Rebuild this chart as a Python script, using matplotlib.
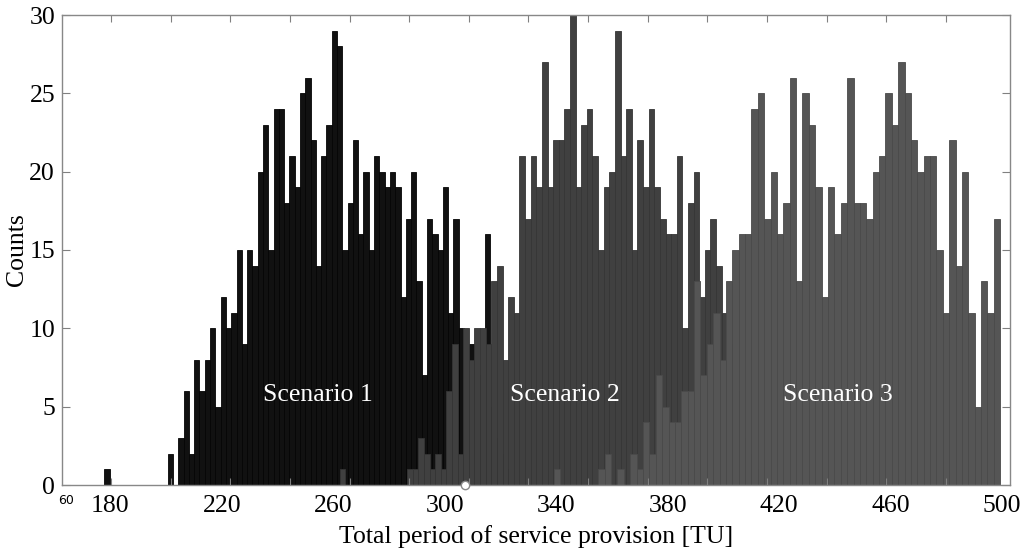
import numpy as np
import matplotlib.pyplot as plt

plt.rcParams['font.family'] = ['Liberation Serif', 'DejaVu Serif']

# histogram counts per bin, left edge of first bin and bin width in TU
s1_counts = [1, 0, 0, 0, 0, 0, 0, 0, 0, 0, 0, 0, 2, 0, 3, 6, 2, 8, 6, 8,
             10, 5, 12, 10, 11, 15, 9, 15, 14, 20, 23, 15, 24, 24, 18, 21, 19, 25, 26, 22,
             14, 21, 23, 29, 28, 15, 18, 22, 16, 20, 15, 21, 20, 19, 20, 19, 12, 17, 20, 13,
             7, 17, 16, 15, 19, 11, 17, 10, 8, 9, 7, 6, 16, 5, 3, 2, 1]
s1_start, s1_width = 177.77, 1.899

s2_counts = [1, 0, 0, 0, 0, 0, 0, 0, 0, 0, 0, 0, 1, 1, 3, 2, 1, 2, 1, 6,
             9, 2, 10, 8, 10, 10, 9, 13, 14, 8, 12, 11, 21, 17, 21, 19, 27, 19, 22, 22,
             24, 30, 19, 23, 24, 21, 15, 19, 20, 29, 21, 24, 15, 22, 19, 24, 19, 17, 16, 16,
             21, 10, 18, 20, 12, 15, 17, 14, 11, 9, 6, 5, 3, 2, 1]
s2_start, s2_width = 262.26, 2.017

s3_counts = [1, 0, 0, 0, 0, 0, 0, 1, 2, 0, 1, 0, 2, 1, 4, 2, 7, 5, 4, 4,
             6, 6, 13, 7, 9, 11, 8, 13, 15, 16, 16, 24, 25, 17, 20, 16, 18, 26, 13, 25,
             23, 19, 12, 19, 16, 18, 26, 18, 18, 17, 20, 21, 25, 23, 27, 25, 22, 20, 21, 21,
             15, 11, 22, 14, 20, 11, 5, 13, 11, 17]
s3_start, s3_width = 339.10, 2.29

labels = ['Scenario 1', 'Scenario 2', 'Scenario 3']
label_x = [254.5, 343.1, 441.1]
label_y = 5.75

xtick_labels = [180, 220, 260, 300, 340, 380, 420, 460, 500]
yticks = [0, 5, 10, 15, 20, 25, 30]

fig = plt.figure(figsize=(10.22, 5.51), dpi=100)
ax = fig.add_axes([62/1022, 1-485/551, 948/1022, 470/551])

series = [(s1_counts, s1_start, s1_width, '#111111', '#050505'),
          (s2_counts, s2_start, s2_width, '#404040', '#353535'),
          (s3_counts, s3_start, s3_width, '#555555', '#4a4a4a')]
for counts, start, width, fc, ec in series:
    left = start + width * np.arange(len(counts))
    ax.bar(left, counts, width=width, align='edge', color=fc,
           edgecolor=ec, linewidth=0.6)

for txt, x in zip(labels, label_x):
    ax.text(x, label_y, txt, color='white', fontsize=18.5,
            ha='center', va='center')

ax.set_xlim(162.6, 502.9)
ax.set_ylim(0, 30)

# labelled positions carry no tick marks; the marks sit on their own grid
ax.set_xticks(xtick_labels)
ax.set_xticklabels([str(v) for v in xtick_labels])
ax.set_xticks(180.18 + 21.41 * np.arange(15), minor=True)
ax.set_yticks(yticks)
ax.tick_params(axis='x', which='major', length=0, pad=7, labelsize=18.5)
ax.tick_params(axis='x', which='minor', direction='in', length=5,
               top=True, bottom=True, color='#808080', width=0.8)
ax.tick_params(axis='y', direction='in', length=6, left=True, right=True,
               color='#808080', width=0.8, labelsize=18.5, pad=5)
for sp in ax.spines.values():
    sp.set_color('#888888')
    sp.set_linewidth(1.0)

ax.set_xlabel('Total period of service provision [TU]', fontsize=18.5, labelpad=6)
ax.set_ylabel('Counts', fontsize=18.5)
ax.yaxis.set_label_coords(-34/948, 0.5)

# leftover pieces of the original picture
fig.text(66/1022, 1-500/551, '60', fontsize=9, family='DejaVu Sans',
         ha='center', va='center')
ax.plot([307.4], [0], marker='o', ms=6, mfc='white', mec='#888888',
        mew=1, clip_on=False, zorder=5)

fig.savefig('out.png', dpi=100)
